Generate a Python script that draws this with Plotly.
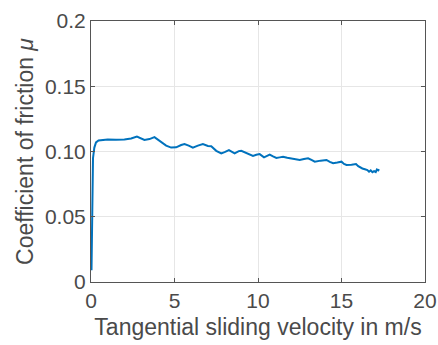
import plotly.graph_objects as go

velocity = [0.03, 0.05, 0.08, 0.12, 0.2, 0.3, 0.45, 0.7, 1.0, 1.5, 2.0, 2.4, 2.75, 3.2, 3.5, 3.8, 4.1,
            4.5, 4.8, 5.1, 5.4, 5.6, 5.85, 6.1, 6.4, 6.7, 7.0, 7.2, 7.5, 7.8, 8.0, 8.26, 8.6, 8.85,
            9.0, 9.2, 9.5, 9.7, 9.9, 10.1, 10.36, 10.7, 10.9, 11.1, 11.3, 11.5, 11.75, 12.0, 12.25,
            12.5, 12.75, 13.0, 13.2, 13.4, 13.75, 14.1, 14.3, 14.5, 14.75, 15.0, 15.15, 15.3, 15.6,
            15.87, 16.0, 16.1, 16.25, 16.4, 16.55, 16.65, 16.75, 16.85, 16.95, 17.05, 17.12, 17.2, 17.25]
friction = [0.009, 0.04, 0.075, 0.095, 0.103, 0.107, 0.1085, 0.109, 0.1092, 0.109, 0.1092, 0.110,
            0.1115, 0.1088, 0.1095, 0.111, 0.108, 0.1045, 0.103, 0.1032, 0.105, 0.1057, 0.1045,
            0.103, 0.1045, 0.1057, 0.1042, 0.104, 0.1005, 0.0986, 0.0995, 0.101, 0.0986, 0.1003,
            0.1006, 0.0995, 0.0975, 0.0966, 0.0975, 0.098, 0.0955, 0.0976, 0.0962, 0.095, 0.0955,
            0.096, 0.0952, 0.0948, 0.0942, 0.0935, 0.0942, 0.0948, 0.0935, 0.0922, 0.093, 0.0935,
            0.092, 0.091, 0.0915, 0.0922, 0.0905, 0.0897, 0.0898, 0.0904, 0.0888, 0.0879, 0.087,
            0.0864, 0.0858, 0.0845, 0.0855, 0.0842, 0.085, 0.0843, 0.0862, 0.0855, 0.0864]

x_ticks = [0, 5, 10, 15, 20]
y_ticks = [0, 0.05, 0.10, 0.15, 0.2]
y_tick_labels = ["0", "0.05", "0.10", "0.15", "0.2"]

text_color = "#4a4a4a"
font = "Liberation Sans, Arial, Helvetica, sans-serif"

fig = go.Figure()
fig.add_trace(go.Scatter(x=velocity, y=friction, mode="lines",
                         line=dict(color="#0072BD", width=2), showlegend=False))

axis_common = dict(showline=True, linecolor="#555555", linewidth=1, mirror="ticks",
                   ticks="inside", ticklen=4, tickcolor="#555555",
                   showgrid=True, gridcolor="#e6e6e6", gridwidth=1, zeroline=False,
                   automargin=False,
                   tickfont=dict(size=21, color=text_color, family=font))

fig.update_xaxes(range=[0, 20], tickvals=x_ticks, ticktext=[str(v) for v in x_ticks],
                 title=dict(text="Tangential sliding velocity in m/s",
                            font=dict(size=23, color=text_color, family=font), standoff=7),
                 **axis_common)
fig.update_yaxes(range=[0, 0.2], tickvals=y_ticks, ticktext=y_tick_labels,
                 title=dict(text="Coefficient of friction <i>μ</i>",
                            font=dict(size=23, color=text_color, family=font), standoff=4),
                 **axis_common)

fig.update_layout(width=438, height=345, margin=dict(l=91, r=13, t=21, b=63),
                  plot_bgcolor="white", paper_bgcolor="white")

fig.write_html("out.html")
